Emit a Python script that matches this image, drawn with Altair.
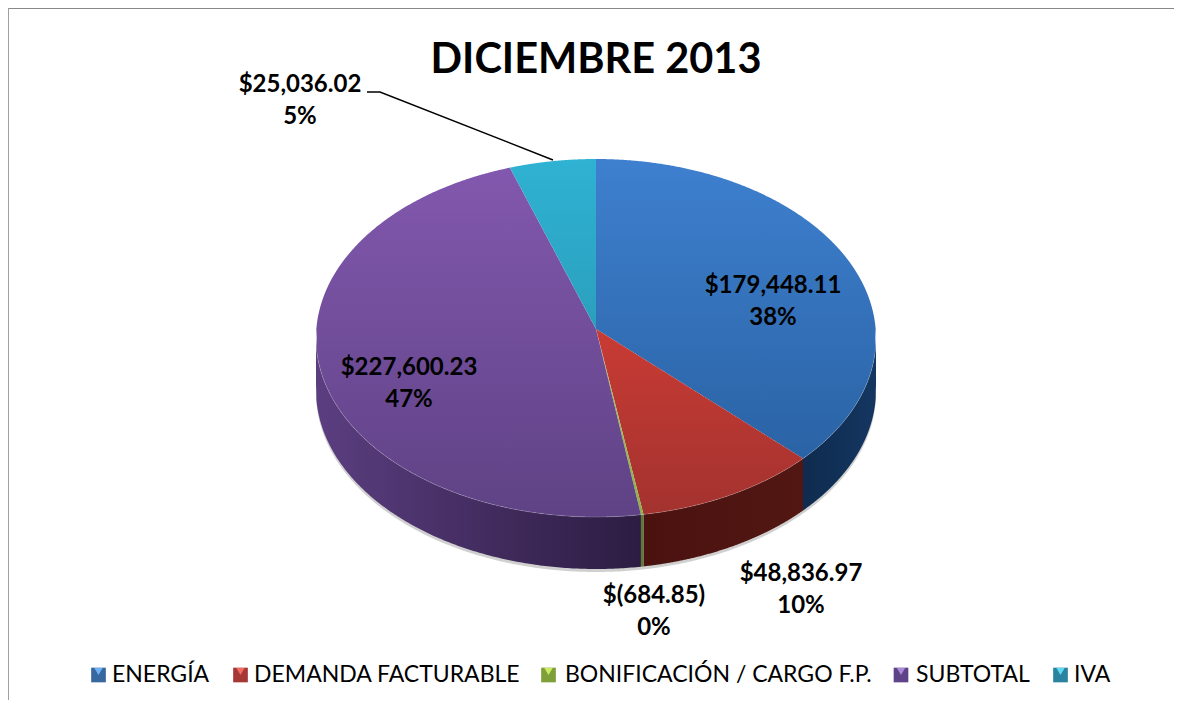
import numpy as np
import pandas as pd
import altair as alt

# ---- data ----
names = ["ENERGÍA", "DEMANDA FACTURABLE", "BONIFICACIÓN / CARGO F.P.", "SUBTOTAL", "IVA"]
values = [179448.11, 48836.97, 684.85, 227600.23, 25036.02]
value_text = ["$179,448.11", "$48,836.97", "$(684.85)", "$227,600.23", "$25,036.02"]
pct_text = ["38%", "10%", "0%", "47%", "5%"]
title_text = "DICIEMBRE 2013"

# ---- styling and layout ----
FONT = "Lato"
legend_colors = ["#37679F", "#A53735", "#7F9F3A", "#5E4389", "#2A839E"]
bevel_colors = ["#6FB2F2", "#F26A66", "#CDEB62", "#A98AD8", "#5FD8F2"]
top_stops = [("#3E80CF", "#2A63A5"), ("#C93B34", "#A3322F"), ("#A5C94F", "#8DB045"),
             ("#8258AE", "#5F4285"), ("#2FB2D3", "#2B9FBD")]
wall_stops = [("#0F2B4F", "#143660"), ("#4A120F", "#521713"), ("#5E7A30", "#5E7A30"),
              ("#5B3E80", "#2C1C42"), ("#1A5A70", "#1A5A70")]
cx, cy, ax_y, rx, ry, depth = 596.0, 338.0, 329.0, 280.0, 179.0, 52.0
persp = 0.044  # far half of the disc looks compressed
label_x = [773, 801, 654, 409, 300]
label_y = [286, 574, 596, 368, 85]
line_gap = 32
leader_x = [367, 380, 553]
leader_y = [92, 92, 160]
sym_x = [98.5, 240.5, 548.5, 901, 1060.5]
sym_y = 675
bevel_y = 671.5
W, H = 1166, 692


def ell(a):
    b = a - persp * np.sin(a)
    return cx + rx * np.sin(b), cy - ry * np.cos(b)


def sector(a0, a1):
    """Top-face slice as a band y..y2 over x."""
    t = np.linspace(a0, a1, 160)
    px, py = ell(t)
    px = np.r_[px, cx, px[0]]
    py = np.r_[py, ax_y, py[0]]
    xs = np.unique(np.r_[px, np.linspace(px.min(), px.max(), 260)])
    rows = []
    for x in xs:
        hits = []
        for i in range(len(px) - 1):
            lo, hi = sorted((px[i], px[i + 1]))
            if lo <= x <= hi:
                if px[i] == px[i + 1]:
                    hits += [py[i], py[i + 1]]
                else:
                    hits.append(py[i] + (x - px[i]) / (px[i + 1] - px[i]) * (py[i + 1] - py[i]))
        if hits:
            rows.append((x, min(hits), max(hits)))
    return pd.DataFrame(rows, columns=["x", "y", "y2"])


def wall(a0, a1):
    a0, a1 = max(a0, np.pi / 2), min(a1, 3 * np.pi / 2)
    if a1 <= a0:
        return None
    t = np.linspace(a0, a1, 200)
    px, py = ell(t)
    return pd.DataFrame({"x": px, "y": py, "y2": py + depth})


X_SCALE = alt.Scale(domain=[8, 8 + W], nice=False, zero=False)
Y_SCALE = alt.Scale(domain=[8 + H, 8], nice=False, zero=False)
X = alt.X("x:Q", scale=X_SCALE, axis=None)
Y = alt.Y("y:Q", scale=Y_SCALE, axis=None, stack=None)


def band(df, c0, c1, horizontal=False):
    grad = alt.LinearGradient(
        gradient="linear",
        x1=0, x2=1 if horizontal else 0, y1=0, y2=0 if horizontal else 1,
        stops=[alt.GradientStop(offset=0, color=c0), alt.GradientStop(offset=1, color=c1)],
    )
    return alt.Chart(df).mark_area(color=grad, interpolate="linear").encode(
        x=X, y=Y, y2="y2:Q"
    )


fracs = np.array(values) / sum(values)
edges = np.r_[0, np.cumsum(fracs)] * 2 * np.pi

layers = []

# legend keys are bevelled squares: the legend supplies the labels and spacing,
# its own symbols are left transparent and the keys are drawn underneath
key_df = pd.DataFrame({"name": names, "x": sym_x, "y": [sym_y] * 5})
layers.append(
    alt.Chart(key_df).mark_square(size=215, opacity=1).encode(
        x=X, y=Y,
        color=alt.Color(
            "name:N",
            scale=alt.Scale(domain=names, range=legend_colors),
            sort=names,
            legend=alt.Legend(
                title=None, orient="none", legendX=79, legendY=655, direction="horizontal",
                columns=5, symbolType="square", symbolSize=225, symbolOpacity=0,
                symbolStrokeWidth=0, labelFont=FONT, labelFontSize=23, labelColor="#000000",
                labelLimit=500, columnPadding=19, labelOffset=2,
            ),
        ),
    )
)

# soft shadow under the disc
t = np.linspace(np.pi / 2, 3 * np.pi / 2, 300)
sx, sy = ell(t)
shadow = pd.DataFrame({"x": sx, "y": sy, "y2": sy + depth + 3})
layers.append(alt.Chart(shadow).mark_area(color="#777777", opacity=0.35).encode(x=X, y=Y, y2="y2:Q"))

for i in range(5):
    w = wall(edges[i], edges[i + 1])
    if w is not None:
        layers.append(band(w, *wall_stops[i], horizontal=True))
for i in range(5):
    layers.append(band(sector(edges[i], edges[i + 1]), *top_stops[i]))

# thin light edge where the top face meets the wall
edge = pd.DataFrame({"x": sx, "y": sy})
layers.append(alt.Chart(edge).mark_line(color="#FFFFFF", strokeWidth=1, opacity=0.18).encode(x=X, y=Y))

# leader line
layers.append(
    alt.Chart(pd.DataFrame({"x": leader_x, "y": leader_y}))
    .mark_line(color="#000000", strokeWidth=1.4)
    .encode(x=X, y=Y)
)

# data labels
lab = pd.DataFrame({"x": label_x, "y": label_y, "v": value_text, "p": pct_text})
lab["y_p"] = lab["y"] + line_gap
layers.append(
    alt.Chart(lab).mark_text(font=FONT, fontSize=24, fontWeight="bold", color="#000000")
    .encode(x=X, y=Y, text="v:N")
)
layers.append(
    alt.Chart(lab).mark_text(font=FONT, fontSize=24, fontWeight="bold", color="#000000")
    .encode(x=X, y=alt.Y("y_p:Q", scale=Y_SCALE, axis=None), text="p:N")
)

# bevel highlight on the legend keys
bevel = pd.DataFrame({"x": sym_x, "y": [bevel_y] * 5, "c": bevel_colors})
layers.append(
    alt.Chart(bevel).mark_point(shape="triangle-down", filled=True, size=70, opacity=1)
    .encode(x=X, y=Y, color=alt.Color("c:N", scale=None, legend=None))
)

# frame: only the top and left edges are visible in the reference
layers.append(alt.Chart(pd.DataFrame({"a": [0]})).mark_rule(color="#888888", strokeWidth=2)
              .encode(x=alt.value(0), x2=alt.value(W), y=alt.value(0)))
layers.append(alt.Chart(pd.DataFrame({"a": [0]})).mark_rule(color="#A0A0A0", strokeWidth=2)
              .encode(x=alt.value(0), y=alt.value(0), y2=alt.value(H)))

chart = (
    alt.layer(*layers)
    .resolve_scale(color="independent")
    .properties(
        width=W, height=H, padding=0, autosize=alt.AutoSizeParams(type="none"),
        title=alt.TitleParams(
            title_text, font=FONT, fontSize=41.5, fontWeight="bold", color="#000000",
            anchor="middle", frame="group", orient="top", offset=-107, dx=5, baseline="alphabetic",
        ),
    )
    .configure_view(stroke=None)
)
chart.save("out.html", embed_options={"renderer": "svg", "actions": False})
